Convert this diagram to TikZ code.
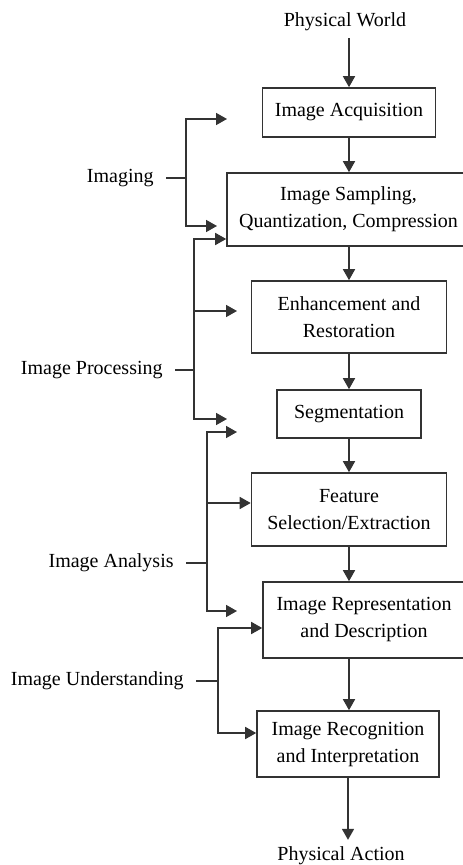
\documentclass[tikz,border=0pt]{standalone}
\usepackage{fontspec}
\setmainfont{Liberation Serif}
\usetikzlibrary{arrows.meta,positioning}

\begin{document}
\begin{tikzpicture}[x=0.5pt,y=-0.5pt,
		stage/.style={draw=black!80,line width=0.8pt,align=center,inner sep=0pt,font=\fontsize{10}{13.5}\selectfont},
		lbl/.style={anchor=east,inner xsep=6pt,font=\fontsize{10}{12}\selectfont},
		flow/.style={draw=black!80,line width=0.8pt,-{Triangle[length=5.5pt,width=6pt]}},
		tie/.style={draw=black!80,line width=0.8pt}]
		\useasboundingbox (0,0) rectangle (462,865);
		% main chain
		\node[font=\fontsize{10}{12}\selectfont] (world) at (345,22) {Physical World};
		\node[stage,minimum width=86.5pt,minimum height=24.5pt] (acq) at (349,112.5) {Image Acquisition};
		\node[stage,minimum width=121.5pt,minimum height=36.5pt] (samp) at (348.5,209.5) {Image Sampling,\\Quantization, Compression};
		\node[stage,minimum width=97.5pt,minimum height=36pt] (enh) at (349,317) {Enhancement and\\Restoration};
		\node[stage,minimum width=72pt,minimum height=24pt] (seg) at (349,414) {Segmentation};
		\node[stage,minimum width=97.5pt,minimum height=36.5pt] (feat) at (349,509.5) {Feature\\Selection/Extraction};
		\node[stage,minimum width=101pt,minimum height=38pt] (rep) at (364,620) {Image Representation\\and Description};
		\node[stage,minimum width=91pt,minimum height=33pt] (rec) at (348,744) {Image Recognition\\and Interpretation};
		\node[font=\fontsize{10}{12}\selectfont] (action) at (341,856) {Physical Action};
		\draw[flow] (world.south -| acq) -- (acq.north);
		\draw[flow] (acq.south) -- (acq.south |- samp.north);
		\draw[flow] (samp.south -| enh) -- (enh.north);
		\draw[flow] (enh.south) -- (seg.north);
		\draw[flow] (seg.south) -- (feat.north);
		\draw[flow] (feat.south) -- (feat.south |- rep.north);
		\draw[flow] (feat.south |- rep.south) -- (feat.south |- rec.north);
		\draw[flow] (rec.south) -- (rec.south |- action.north);
		% imaging
		\coordinate (imgj) at (186,178);
		\coordinate (imgtop) at (227,119);
		\coordinate (imgbot) at (217,226);
		\node[lbl] (imaging) at (166,178) {Imaging};
		\draw[tie] (imaging.east) -- (imgj);
		\draw[flow] (imgj) |- (imgtop);
		\draw[flow] (imgj) |- (imgbot);
		% image processing
		\coordinate (procj) at (194,370);
		\coordinate (procmid) at (237,311);
		\coordinate (procbot) at (227,419);
		\node[lbl] (processing) at (175,370) {Image Processing};
		\draw[tie] (processing.east) -- (procj);
		\draw[flow] (procj) |- ([yshift=-14.75pt]samp.west);
		\draw[flow] (procj) |- (procmid);
		\draw[flow] (procj) |- (procbot);
		% image analysis
		\coordinate (anaj) at (207,563);
		\coordinate (anatop) at (237,432);
		\coordinate (anabot) at (237,611);
		\node[lbl] (analysis) at (186,563) {Image Analysis};
		\draw[tie] (analysis.east) -- (anaj);
		\draw[flow] (anaj) |- (anatop);
		\draw[flow] (anaj) |- ([yshift=3.25pt]feat.west);
		\draw[flow] (anaj) |- (anabot);
		% image understanding
		\coordinate (undj) at (218,681);
		\node[lbl] (understanding) at (196,681) {Image Understanding};
		\draw[tie] (understanding.east) -- (undj);
		\draw[flow] (undj) |- ([yshift=-4pt]rep.west);
		\draw[flow] (undj) |- ([yshift=5.5pt]rec.west);
\end{tikzpicture}
\end{document}
